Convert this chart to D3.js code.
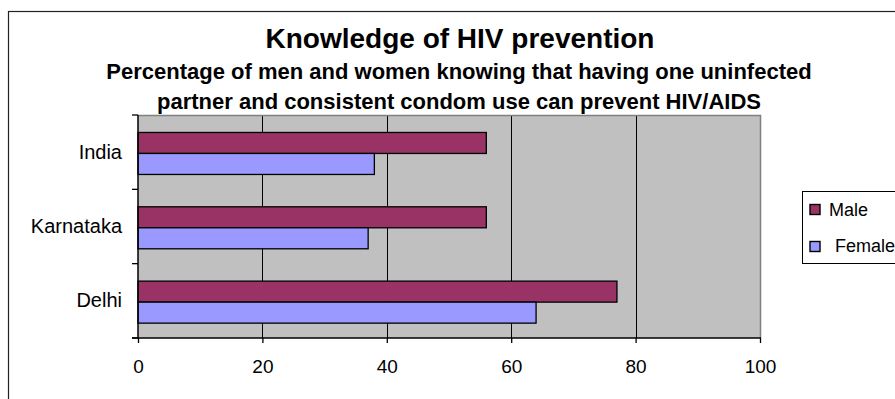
<!DOCTYPE html>
<html>
<head>
<meta charset="utf-8">
<script src="https://cdn.jsdelivr.net/npm/d3@7"></script>
<style>
  html, body { margin: 0; padding: 0; background: #fff; }
  svg { display: block; font-family: "Liberation Sans", Arial, sans-serif; }
</style>
</head>
<body>
<svg id="chart" width="895" height="399"></svg>
<script>
// Categories listed top to bottom, with one value per category for each series
const categories = ["India", "Karnataka", "Delhi"];
const seriesNames = ["Male", "Female"];
const maleValues = [56, 56, 77];
const femaleValues = [38, 37, 64];
const xTicks = [0, 20, 40, 60, 80, 100];
const titleText = "Knowledge of HIV prevention";
const subtitleLines = [
  "Percentage of men and women knowing that having one uninfected",
  "partner and consistent condom use can prevent HIV/AIDS"
];

const colors = { Male: "#993366", Female: "#9999FF" };
const rows = categories.map((c, i) => ({ category: c, Male: maleValues[i], Female: femaleValues[i] }));

const svg = d3.select("#chart");
const plot = { left: 138, right: 760, top: 115, bottom: 338 };

// Outer chart frame
svg.append("rect")
  .attr("x", 8.5).attr("y", 11.5)
  .attr("width", 1000).attr("height", 500)
  .attr("fill", "#fff").attr("stroke", "#222").attr("stroke-width", 1.2);

// Titles
svg.append("text")
  .attr("x", 460).attr("y", 48)
  .attr("text-anchor", "middle")
  .attr("font-size", 28).attr("font-weight", "bold")
  .text(titleText);

svg.selectAll("text.sub").data(subtitleLines).join("text")
  .attr("class", "sub")
  .attr("x", 459).attr("y", (d, i) => 79 + i * 30)
  .attr("text-anchor", "middle")
  .attr("font-size", 22).attr("font-weight", "bold")
  .text(d => d);

// Scales
const x = d3.scaleLinear().domain([0, 100]).range([plot.left, plot.right]);
const y = d3.scaleBand().domain(categories).range([plot.top, plot.bottom]).padding(0);
const ySeries = d3.scaleBand().domain(seriesNames)
  .range([0, y.step()]).paddingInner(0).paddingOuter(0.77).align(0.54);

// Plot area background
svg.append("rect")
  .attr("x", plot.left).attr("y", plot.top)
  .attr("width", plot.right - plot.left).attr("height", plot.bottom - plot.top)
  .attr("fill", "#C0C0C0");

// Vertical gridlines
svg.append("g").selectAll("line")
  .data(xTicks.filter(t => t > 0 && t < 100)).join("line")
  .attr("x1", d => Math.round(x(d)) + 0.5).attr("x2", d => Math.round(x(d)) + 0.5)
  .attr("y1", plot.top).attr("y2", plot.bottom)
  .attr("stroke", "#000").attr("stroke-width", 1);

// Plot border (top and right)
svg.append("path")
  .attr("d", `M${plot.left},${plot.top + 0.5}H${plot.right + 0.5}V${plot.bottom}`)
  .attr("fill", "none").attr("stroke", "#808080").attr("stroke-width", 1.5);

// Bars
const groups = svg.append("g").selectAll("g")
  .data(rows).join("g")
  .attr("transform", d => `translate(0,${y(d.category)})`);

groups.selectAll("rect")
  .data(d => seriesNames.map(s => ({ series: s, value: d[s] })))
  .join("rect")
  .attr("x", x(0))
  .attr("y", d => ySeries(d.series))
  .attr("width", d => x(d.value) - x(0))
  .attr("height", ySeries.bandwidth())
  .attr("fill", d => colors[d.series])
  .attr("stroke", "#000").attr("stroke-width", 1.3);

// Bottom axis
const xAxis = svg.append("g")
  .attr("transform", `translate(0,${plot.bottom})`)
  .call(d3.axisBottom(x).tickValues(xTicks).tickSize(5).tickPadding(17).tickSizeOuter(0));
xAxis.select(".domain").remove();
xAxis.selectAll(".tick line").attr("stroke", "#000").attr("stroke-width", 1.3);
xAxis.selectAll("text").attr("font-size", 19).attr("fill", "#000")
  .attr("font-family", "'Liberation Sans', Arial, sans-serif");
svg.append("line")
  .attr("x1", plot.left - 6).attr("x2", plot.right + 1)
  .attr("y1", plot.bottom).attr("y2", plot.bottom)
  .attr("stroke", "#000").attr("stroke-width", 1.5);

// Left axis: labels centred on each band, ticks on the band boundaries
const yAxis = svg.append("g")
  .attr("transform", `translate(${plot.left},0)`)
  .call(d3.axisLeft(y).tickSize(0).tickPadding(16));
yAxis.select(".domain").remove();
yAxis.selectAll("text").attr("font-size", 20).attr("fill", "#000")
  .attr("font-family", "'Liberation Sans', Arial, sans-serif");

const boundaries = categories.map(c => y(c)).concat([plot.bottom]);
svg.append("g").selectAll("line").data(boundaries).join("line")
  .attr("x1", plot.left - 6).attr("x2", plot.left)
  .attr("y1", d => d).attr("y2", d => d)
  .attr("stroke", "#000").attr("stroke-width", 1.3);
svg.append("line")
  .attr("x1", plot.left).attr("x2", plot.left)
  .attr("y1", plot.top).attr("y2", plot.bottom)
  .attr("stroke", "#000").attr("stroke-width", 1.5);

// Legend
const legend = svg.append("g").attr("transform", "translate(802,191)");
legend.append("rect")
  .attr("x", 0.5).attr("y", 0.5).attr("width", 200).attr("height", 72)
  .attr("fill", "#fff").attr("stroke", "#000").attr("stroke-width", 1);
const legendItems = legend.selectAll("g.item").data(seriesNames).join("g")
  .attr("class", "item")
  .attr("transform", (d, i) => `translate(0,${25 + i * 36})`);
legendItems.append("rect")
  .attr("x", 8).attr("y", (d, i) => -11.5 + i * 1).attr("width", 10).attr("height", 10)
  .attr("fill", d => colors[d]).attr("stroke", "#000").attr("stroke-width", 1.4);
legendItems.append("text")
  .attr("x", (d, i) => i === 0 ? 27 : 33)
  .attr("y", 0)
  .attr("font-size", 18)
  .text(d => d);
</script>
</body>
</html>
